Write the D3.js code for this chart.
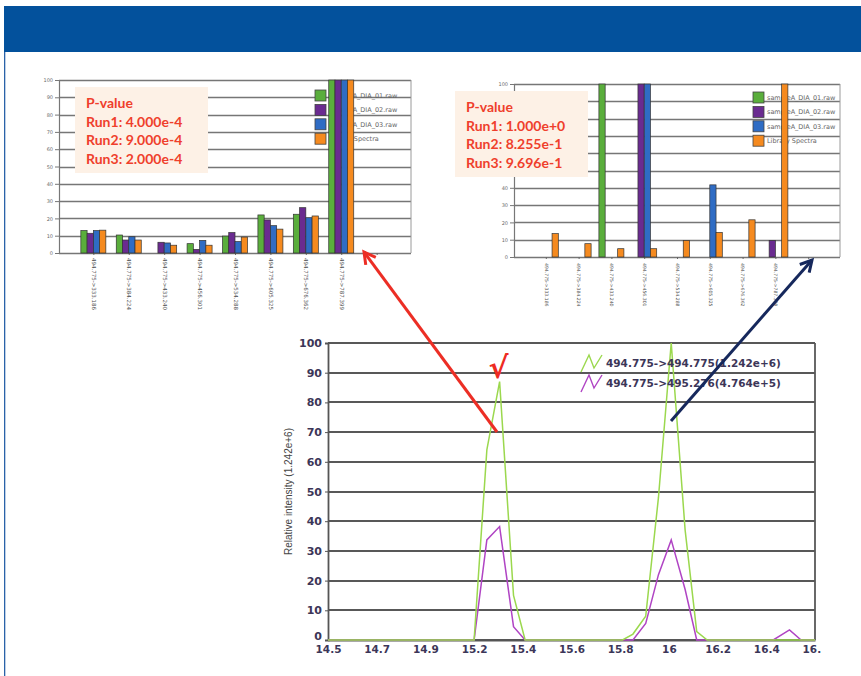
<!DOCTYPE html>
<html>
<head>
<meta charset="utf-8">
<script src="https://cdn.jsdelivr.net/npm/d3@7"></script>
<style>
  body { margin: 0; background: #ffffff; }
  svg { display: block; }
</style>
</head>
<body>
<svg id="fig" width="861" height="676"></svg>
<script>
// ---- Fragment ion categories (precursor -> product m/z) ----
const fragments = [
  "494.775->333.186", "494.775->384.224", "494.775->433.240", "494.775->456.301",
  "494.775->534.288", "494.775->605.325", "494.775->676.362", "494.775->787.399"
];
const seriesNames = ["sampleA_DIA_01.raw", "sampleA_DIA_02.raw", "sampleA_DIA_03.raw", "Library Spectra"];
const seriesColors = ["#5aae3c", "#6a2b90", "#2f6cc4", "#f58a1f"];

// Relative fragment intensities, peak at 15.24 min
const leftRun1 = [13, 10.4, 0, 5.4, 9.8, 22, 22.4, 100];
const leftRun2 = [11.4, 7.5, 6.2, 2.1, 11.8, 19.1, 26.2, 100];
const leftRun3 = [13, 9.4, 5.8, 7.3, 6.6, 15.8, 20.4, 100];
const leftLibrary = [13.2, 7.5, 4.5, 4.5, 9.2, 13.8, 21.4, 100];

// Relative fragment intensities, peak at 15.98 min
const rightRun1 = [0, 0, 100, 0, 0, 0, 0, 0];
const rightRun2 = [0, 0, 0, 100, 0, 0, 0, 9.6];
const rightRun3 = [0, 0, 0, 100, 0, 41.7, 0, 0];
const rightLibrary = [13.5, 7.7, 4.8, 4.8, 9.6, 14.2, 21.5, 100];

const leftPValues = ["P-value", "Run1: 4.000e-4", "Run2: 9.000e-4", "Run3: 2.000e-4"];
const rightPValues = ["P-value", "Run1: 1.000e+0", "Run2: 8.255e-1", "Run3: 9.696e-1"];

const intensityTicks = [0, 10, 20, 30, 40, 50, 60, 70, 80, 90, 100];

// ---- Extracted ion chromatograms ----
const rtTickLabels = ["14.5", "14.7", "14.9", "15.2", "15.4", "15.6", "15.8", "16", "16.2", "16.4", "16.6"];
const rtTimes = [14.5, 15.13, 15.185, 15.24, 15.30, 15.35, 15.77, 15.815, 15.87, 15.925, 15.98, 16.04, 16.09, 16.135, 16.42, 16.49, 16.54, 16.6];
const xicLight = [0, 0, 64, 87, 15, 0, 0, 2, 8, 48, 100, 37, 2.8, 0, 0, 0, 0, 0];
const xicHeavy = [0, 0, 33.7, 38.2, 4.5, 0, 0, 0, 5.6, 22, 33.7, 17, 0, 0, 0, 3.4, 0, 0];
const xicLegend = ["494.775->494.775(1.242e+6)", "494.775->495.276(4.764e+5)"];
const xicColors = ["#9bd84e", "#b044c4"];

const svg = d3.select("#fig");
const defs = svg.append("defs");

// Page banner and left rule
svg.append("rect").attr("x", 4).attr("y", 6).attr("width", 857).attr("height", 46).attr("fill", "#03519c");
svg.append("rect").attr("x", 4).attr("y", 52).attr("width", 1.3).attr("height", 624).attr("fill", "#2a62a8");

// ---- Grouped bar chart of fragment intensities ----
function barChart(cfg) {
  const g = svg.append("g");
  const x = d3.scalePoint().domain(d3.range(fragments.length + 1))
    .range([cfg.left, cfg.right]).padding(0.97);
  const y = d3.scaleLinear().domain([0, 100]).range([cfg.bottom, cfg.top]);
  const xs = d3.scaleBand().domain(d3.range(4)).range([-12.5, 12.5]);
  const [bx, by, bw, bh] = cfg.box;
  const underPanel = v => cfg.left > bx && cfg.left < bx + bw && y(v) > by && y(v) < by + bh;

  // horizontal grid
  g.append("g").selectAll("line").data(intensityTicks).join("line")
    .attr("x1", cfg.left).attr("x2", cfg.right)
    .attr("y1", d => Math.round(y(d)) + 0.5).attr("y2", d => Math.round(y(d)) + 0.5)
    .attr("stroke", "#767676").attr("stroke-width", 1.5);
  g.append("line").attr("x1", cfg.right).attr("x2", cfg.right)
    .attr("y1", cfg.top).attr("y2", cfg.bottom)
    .attr("stroke", "#9a9a9a").attr("stroke-width", 1);

  // y axis (labels sitting under the p-value panel stay blank)
  const ya = g.append("g").attr("transform", `translate(${cfg.left},0)`)
    .call(d3.axisLeft(y).tickValues(intensityTicks).tickSize(4).tickPadding(2)
      .tickFormat(v => underPanel(v) ? "" : v));
  ya.select(".domain").attr("stroke", "#777").attr("stroke-width", 1.2);
  ya.selectAll("line").attr("stroke", "#777");
  ya.selectAll("text").attr("fill", "#6a6a6a").style("font", "5px 'DejaVu Sans'");

  // x axis with rotated fragment labels
  const xa = g.append("g").attr("transform", `translate(0,${cfg.bottom})`)
    .call(d3.axisBottom(x).tickSize(2).tickFormat(i => fragments[i] || ""));
  xa.select(".domain").remove();
  xa.selectAll("line").attr("stroke", "#666");
  xa.selectAll("text")
    .attr("transform", "rotate(90)")
    .attr("text-anchor", "start")
    .attr("x", cfg.labelGap).attr("y", 0).attr("dy", "0.35em")
    .attr("fill", "#505050")
    .style("font", `${cfg.labelSize}px 'DejaVu Sans'`);

  // y axis title, trimmed where the p-value panel covers it
  const clipId = `titleClip${cfg.left}`;
  defs.append("clipPath").attr("id", clipId).append("rect")
    .attr("x", cfg.titleX - 10).attr("width", 20)
    .attr("y", cfg.titleClipTop).attr("height", cfg.bottom - cfg.titleClipTop);
  g.append("text")
    .attr("clip-path", `url(#${clipId})`)
    .attr("transform", `translate(${cfg.titleX},${cfg.titleY}) rotate(-90)`)
    .attr("text-anchor", cfg.titleAnchor)
    .attr("fill", "#666")
    .style("font", "5.5px 'DejaVu Sans'")
    .text("Relative Intensity");

  // legend
  const lg = g.append("g").selectAll("g").data(seriesNames).join("g")
    .attr("transform", (d, i) => `translate(${cfg.legendX},${cfg.legendY + i * 14.4})`);
  lg.append("rect").attr("width", 11).attr("height", 11)
    .attr("fill", (d, i) => seriesColors[i]).attr("stroke", "#444").attr("stroke-width", 0.8);
  lg.append("text").attr("x", 14).attr("y", 7.8)
    .attr("fill", "#666").style("font", "6.5px 'DejaVu Sans'")
    .text(d => d);

  // bars
  const groups = g.append("g").selectAll("g").data(fragments).join("g")
    .attr("transform", (d, i) => `translate(${x(i)},0)`);
  groups.selectAll("rect")
    .data((d, i) => cfg.series.map((s, k) => ({ k, v: s[i] })).filter(b => b.v > 0))
    .join("rect")
    .attr("x", b => xs(b.k))
    .attr("width", xs.bandwidth())
    .attr("y", b => y(b.v))
    .attr("height", b => y(0) - y(b.v))
    .attr("fill", b => seriesColors[b.k])
    .attr("stroke", "#333").attr("stroke-width", 0.7);

  // p-value panel
  g.append("rect")
    .attr("x", bx).attr("y", by).attr("width", bw).attr("height", bh)
    .attr("fill", "#fdf1e6");
  g.append("g").selectAll("text").data(cfg.pvals).join("text")
    .attr("x", bx + 11)
    .attr("y", (d, i) => by + 21 + i * 18.6)
    .attr("fill", "#ef3f2c")
    .style("font", "bold 14px Lato")
    .text(d => d);
}

barChart({
  left: 59, right: 411, top: 80, bottom: 253,
  series: [leftRun1, leftRun2, leftRun3, leftLibrary],
  pvals: leftPValues, box: [75, 87, 133, 86],
  legendX: 315, legendY: 90,
  titleX: 38, titleY: 175, titleAnchor: "middle", titleClipTop: 80,
  labelSize: 5.5, labelGap: 5
});

barChart({
  left: 514, right: 840, top: 84, bottom: 257,
  series: [rightRun1, rightRun2, rightRun3, rightLibrary],
  pvals: rightPValues, box: [455, 91, 133, 86],
  legendX: 753, legendY: 92,
  titleX: 497, titleY: 207, titleAnchor: "start", titleClipTop: 177,
  labelSize: 4.6, labelGap: 6
});

// ---- Chromatogram panel ----
const chrom = svg.append("g");
defs.append("clipPath").attr("id", "chromClip")
  .append("rect").attr("x", 260).attr("y", 320).attr("width", 561).attr("height", 356);
const cg = chrom.append("g").attr("clip-path", "url(#chromClip)");

const xr = d3.scaleLinear().domain([14.5, 16.6]).range([328, 815]);
const yr = d3.scaleLinear().domain([0, 100]).range([640, 343]);
const rtTickValues = rtTickLabels.map((d, i) => 14.5 + i * (2.1 / (rtTickLabels.length - 1)));

cg.append("g").selectAll("line").data(intensityTicks).join("line")
  .attr("x1", xr(14.5)).attr("x2", xr(16.6))
  .attr("y1", d => Math.round(yr(d))).attr("y2", d => Math.round(yr(d)))
  .attr("stroke", "#585858").attr("stroke-width", 2);
cg.append("line").attr("x1", xr(16.6)).attr("x2", xr(16.6))
  .attr("y1", yr(100)).attr("y2", yr(0))
  .attr("stroke", "#585858").attr("stroke-width", 1.8);

const yAx = cg.append("g").attr("transform", `translate(${xr(14.5)},0)`)
  .call(d3.axisLeft(yr).tickValues(intensityTicks).tickSize(3).tickPadding(3));
yAx.select(".domain").attr("stroke", "#555").attr("stroke-width", 1.8);
yAx.selectAll("line").attr("stroke", "#555");
yAx.selectAll("text").attr("fill", "#3c3658").style("font", "bold 11px 'DejaVu Sans'");
// lift the zero label so it clears the time labels
yAx.selectAll(".tick").filter(d => d === 0).select("text").attr("dy", "-0.05em");

const xAx = cg.append("g").attr("transform", `translate(0,${yr(0)})`)
  .call(d3.axisBottom(xr).tickValues(rtTickValues).tickSize(0).tickPadding(6)
    .tickFormat((d, i) => rtTickLabels[i]));
xAx.select(".domain").attr("stroke", "#555").attr("stroke-width", 1.8);
xAx.selectAll("text").attr("fill", "#3c3658").style("font", "bold 10.5px 'DejaVu Sans'");

cg.append("text")
  .attr("transform", `translate(${xr(14.5) - 36},${yr(50)}) rotate(-90)`)
  .attr("text-anchor", "middle")
  .attr("fill", "#444")
  .style("font", "10px 'Liberation Sans'")
  .text("Relative intensity (1.242e+6)");

const line = d3.line().x((d, i) => xr(rtTimes[i])).y(d => yr(d));
[xicHeavy, xicLight].forEach((s, k) => {
  cg.append("path").datum(s)
    .attr("d", line)
    .attr("fill", "none")
    .attr("stroke", k === 0 ? xicColors[1] : xicColors[0])
    .attr("stroke-width", 1.5);
});

// legend with zig-zag glyphs
const zig = [[0, 17], [8, 0], [13, 13], [21, 0]];
const xl = cg.append("g").selectAll("g").data(xicLegend).join("g")
  .attr("transform", (d, i) => `translate(581,${355 + i * 20})`);
xl.append("polyline")
  .attr("points", zig.map(p => p.join(",")).join(" "))
  .attr("fill", "none")
  .attr("stroke", (d, i) => xicColors[i]).attr("stroke-width", 1.4);
xl.append("text").attr("x", 25).attr("y", 12)
  .attr("fill", "#3c3658").style("font", "bold 10.5px 'DejaVu Sans'")
  .text(d => d);

// check mark on the selected peak
svg.append("text")
  .attr("x", xr(15.24) - 1).attr("y", 378)
  .attr("text-anchor", "middle")
  .attr("fill", "#ee2b22")
  .style("font", "bold 30px 'DejaVu Sans'")
  .text("√");

// ---- Connector arrows ----
function arrow(x1, y1, x2, y2, color) {
  const a = Math.atan2(y2 - y1, x2 - x1);
  const h = 13, spread = 0.5;
  const p1 = [x2 - h * Math.cos(a - spread), y2 - h * Math.sin(a - spread)];
  const p2 = [x2 - h * Math.cos(a + spread), y2 - h * Math.sin(a + spread)];
  svg.append("line").attr("x1", x1).attr("y1", y1).attr("x2", x2).attr("y2", y2)
    .attr("stroke", color).attr("stroke-width", 3);
  svg.append("polyline")
    .attr("points", `${p1.join(",")} ${x2},${y2} ${p2.join(",")}`)
    .attr("fill", "none").attr("stroke", color).attr("stroke-width", 3)
    .attr("stroke-linejoin", "miter");
}
arrow(497, 432, 364, 252, "#ec2e25");
arrow(671, 421, 812, 260, "#16285c");
</script>
</body>
</html>
